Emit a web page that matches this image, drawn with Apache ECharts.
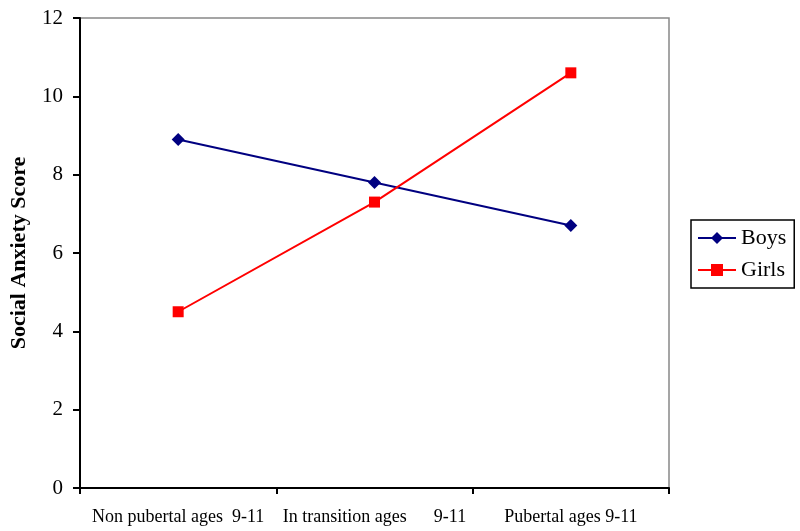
<!DOCTYPE html>
<html>
<head>
<meta charset="utf-8">
<script src="https://cdn.jsdelivr.net/npm/echarts@6/dist/echarts.min.js"></script>
<style>html,body{margin:0;padding:0;background:#fff}#c{width:800px;height:531px}</style>
</head>
<body>
<div id="c"></div>
<script>
var categories = ['Non pubertal ages  9-11', 'In transition ages      9-11', 'Pubertal ages 9-11'];
var boys = [8.9, 7.8, 6.7];
var girls = [4.5, 7.3, 10.6];
var yTicks = [0, 2, 4, 6, 8, 10, 12];

var chart = echarts.init(document.getElementById('c'), null, {renderer: 'canvas'});
var font = 'Liberation Serif';
chart.setOption({
  animation: false,
  backgroundColor: '#fff',
  textStyle: {fontFamily: font},
  grid: {left: 78, right: 131, top: 18, bottom: 43, show: true, borderColor: '#888', borderWidth: 1.5, backgroundColor: 'transparent'},
  legend: {
    orient: 'vertical', left: 691, top: 220,
    padding: [6, 8, 6, 6], itemGap: 8,
    borderColor: '#000', borderWidth: 1.5,
    itemWidth: 38, itemHeight: 15,
    textStyle: {fontFamily: font, fontSize: 22, color: '#000', lineHeight: 24},
    data: ['Boys', 'Girls']
  },
  xAxis: {
    type: 'category', data: categories, boundaryGap: true,
    axisLine: {lineStyle: {color: '#000', width: 2}},
    axisTick: {show: true, length: 6, lineStyle: {color: '#000', width: 2}},
    axisLabel: {fontFamily: font, fontSize: 18, color: '#000', margin: 20, interval: 0}
  },
  yAxis: {
    type: 'value', min: yTicks[0], max: yTicks[yTicks.length - 1], interval: 2,
    name: 'Social Anxiety Score', nameLocation: 'middle', nameGap: 50,
    nameTextStyle: {fontFamily: font, fontSize: 22, fontWeight: 'bold', color: '#000'},
    axisLine: {show: true, lineStyle: {color: '#000', width: 2}},
    axisTick: {show: true, length: 7, lineStyle: {color: '#000', width: 2}},
    splitLine: {show: false},
    axisLabel: {fontFamily: font, fontSize: 21, color: '#000', margin: 17}
  },
  series: [
    {name: 'Boys', type: 'line', data: boys, symbol: 'diamond', symbolSize: 13,
     itemStyle: {color: '#000080'}, lineStyle: {color: '#000080', width: 2}},
    {name: 'Girls', type: 'line', data: girls, symbol: 'rect', symbolSize: 11,
     itemStyle: {color: '#ff0000'}, lineStyle: {color: '#ff0000', width: 2}}
  ]
});
</script>
</body>
</html>
